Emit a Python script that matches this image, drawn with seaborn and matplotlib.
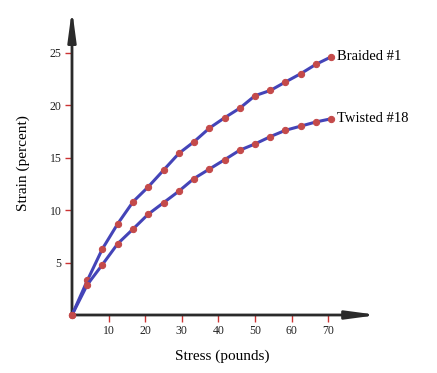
"""Stress vs strain for two rope constructions."""

import matplotlib
matplotlib.use("Agg")
import matplotlib.pyplot as plt
import pandas as pd
import seaborn as sns

# --- data ------------------------------------------------------------------
stress = [0, 4.2, 8.3, 12.5, 16.7, 20.8, 25, 29.2, 33.3, 37.5,
          41.7, 45.8, 50, 54.2, 58.3, 62.5, 66.7, 70.8]
braided = [0, 3.3, 6.3, 8.7, 10.8, 12.2, 13.8, 15.4, 16.5, 17.8,
           18.8, 19.7, 20.9, 21.4, 22.2, 23.0, 23.9, 24.6]
twisted = [0, 2.9, 4.8, 6.8, 8.2, 9.6, 10.7, 11.8, 13.0, 13.9,
           14.8, 15.7, 16.3, 17.0, 17.6, 18.0, 18.4, 18.7]
series_names = ["Braided #1", "Twisted #18"]
x_ticks = [10, 20, 30, 40, 50, 60, 70]
y_ticks = [5, 10, 15, 20, 25]

LINE_COLOR = "#4444b8"
DOT_COLOR = "#c44a4a"
TICK_COLOR = "#cc3333"
AXIS_COLOR = "#2b2b2b"

sns.set_theme(style="white")
plt.rcParams["font.family"] = ["Liberation Serif", "DejaVu Serif"]

df = pd.concat([
    pd.DataFrame({"stress": stress, "strain": braided, "rope": series_names[0]}),
    pd.DataFrame({"stress": stress, "strain": twisted, "rope": series_names[1]}),
])

fig = plt.figure(figsize=(4.37, 3.73), dpi=100)
ax = fig.add_axes([72 / 437, 58 / 373, 296 / 437, 297 / 373])

# arrowed axes (drawn first so the curves sit on top)
arrow = dict(arrowstyle="-|>,head_length=1.5,head_width=0.2", color=AXIS_COLOR,
             lw=2.0, shrinkA=0, shrinkB=0)
ax.annotate("", xy=(1.034, 0), xytext=(0, 0), xycoords="axes fraction",
            arrowprops=arrow, annotation_clip=False, zorder=1)
ax.annotate("", xy=(0, 1.03), xytext=(0, 0), xycoords="axes fraction",
            arrowprops=arrow, annotation_clip=False, zorder=1)

for name, grp in df.groupby("rope", sort=False):
    sns.lineplot(data=grp, x="stress", y="strain", ax=ax, color=LINE_COLOR,
                 linewidth=2.2, marker="o", markersize=4.5,
                 markerfacecolor=DOT_COLOR, markeredgecolor=DOT_COLOR,
                 legend=False, zorder=3, clip_on=False)
    ax.annotate(name, xy=(grp["stress"].iloc[-1], grp["strain"].iloc[-1]),
                xytext=(4, 0), textcoords="offset points", va="center",
                ha="left", fontsize=10.5, color="black")

ax.set_xlim(0, 80.85)
ax.set_ylim(0, 28.3)
ax.set_xticks(x_ticks)
ax.set_yticks(y_ticks)
ax.tick_params(axis="both", direction="out", length=5, width=1,
               color=TICK_COLOR, labelsize=8.5, labelcolor="#222222", pad=2.5)
ax.tick_params(axis="x", bottom=True)
ax.tick_params(axis="y", left=True)

for side in ["top", "right", "left", "bottom"]:
    ax.spines[side].set_visible(False)

ax.set_xlabel("Stress (pounds)", fontsize=11, color="black")
ax.set_ylabel("Strain (percent)", fontsize=11, color="black")
ax.xaxis.set_label_coords((222 - 72) / 296, -(350 - 315) / 297)
ax.yaxis.set_label_coords(-(72 - 30) / 296, (315 - 163) / 297)

fig.savefig("out.png", dpi=100)
plt.close(fig)
